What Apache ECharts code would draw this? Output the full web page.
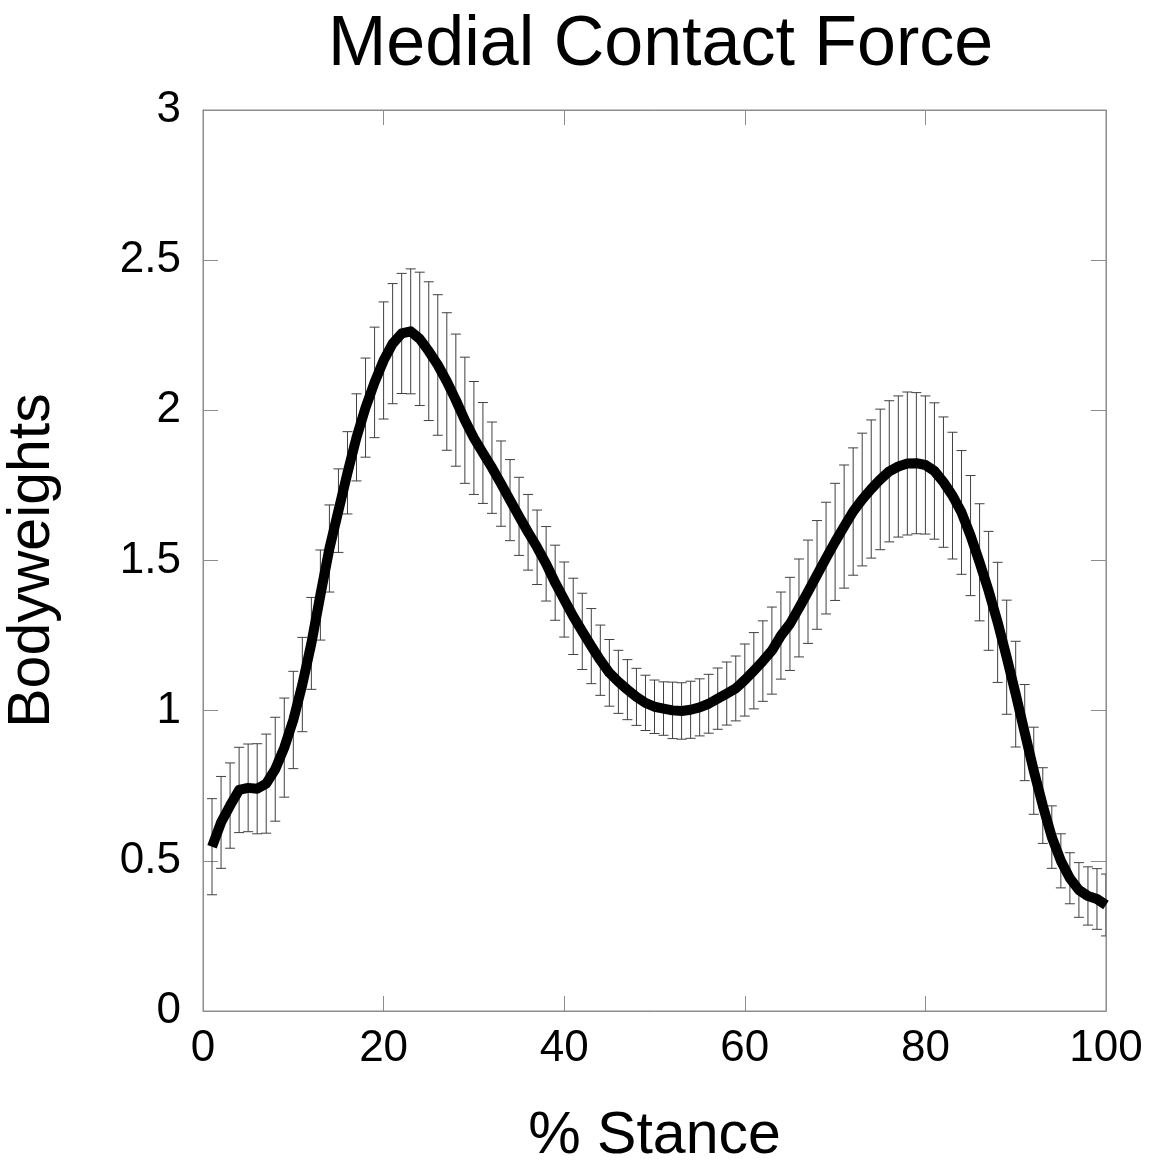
<!DOCTYPE html>
<html>
<head>
<meta charset="utf-8">
<script src="https://cdn.jsdelivr.net/npm/echarts@6/dist/echarts.min.js"></script>
<style>html,body{margin:0;padding:0;background:#fff}#c{width:1157px;height:1165px}</style>
</head>
<body>
<div id="c"></div>
<script>
// % stance (x) values
const stance = [1,2,3,4,5,6,7,8,9,10,11,12,13,14,15,16,17,18,19,20,21,22,23,24,25,26,27,28,29,30,31,32,33,34,35,36,37,38,39,40,41,42,43,44,45,46,47,48,49,50,51,52,53,54,55,56,57,58,59,60,61,62,63,64,65,66,67,68,69,70,71,72,73,74,75,76,77,78,79,80,81,82,83,84,85,86,87,88,89,90,91,92,93,94,95,96,97,98,99,100];
// mean medial contact force (bodyweights)
const meanForce = [0.547,0.628,0.684,0.736,0.743,0.740,0.757,0.805,0.877,0.969,1.087,1.224,1.385,1.540,1.666,1.792,1.910,2.009,2.093,2.166,2.222,2.256,2.263,2.238,2.197,2.151,2.096,2.034,1.967,1.908,1.858,1.809,1.756,1.701,1.647,1.594,1.544,1.489,1.426,1.370,1.314,1.264,1.215,1.168,1.126,1.096,1.070,1.046,1.026,1.013,1.007,1.001,0.999,1.003,1.011,1.023,1.040,1.057,1.074,1.102,1.133,1.165,1.200,1.250,1.289,1.342,1.396,1.452,1.508,1.562,1.613,1.663,1.703,1.738,1.770,1.797,1.813,1.823,1.824,1.818,1.798,1.761,1.716,1.660,1.583,1.494,1.399,1.294,1.178,1.055,0.927,0.800,0.684,0.579,0.500,0.442,0.403,0.383,0.373,0.353];
// standard deviation (bodyweights)
const sdForce = [0.160,0.153,0.142,0.142,0.146,0.150,0.165,0.173,0.165,0.162,0.157,0.153,0.150,0.145,0.139,0.137,0.145,0.165,0.184,0.195,0.200,0.200,0.208,0.222,0.231,0.234,0.229,0.220,0.210,0.188,0.168,0.152,0.142,0.135,0.130,0.126,0.124,0.124,0.125,0.125,0.127,0.127,0.125,0.117,0.111,0.105,0.100,0.095,0.092,0.089,0.089,0.094,0.094,0.095,0.095,0.098,0.102,0.105,0.108,0.120,0.127,0.134,0.145,0.145,0.155,0.163,0.172,0.181,0.186,0.195,0.205,0.212,0.221,0.230,0.234,0.235,0.235,0.238,0.235,0.230,0.227,0.217,0.211,0.206,0.200,0.195,0.198,0.200,0.190,0.176,0.160,0.145,0.126,0.104,0.090,0.085,0.091,0.097,0.101,0.103];
const xTicks = [0,20,40,60,80,100];
const yTicks = [0,0.5,1,1.5,2,2.5,3];

const FONT = "'Liberation Sans', Arial, Helvetica, sans-serif";
const lineData = stance.map((x,i)=>[x, meanForce[i]]);
const errData = stance.map((x,i)=>[x, meanForce[i]-sdForce[i], meanForce[i]+sdForce[i]]);

const axisLineStyle = {color:'#8c8c8c', width:1};
const tickCommon = {show:true, inside:true, length:15, lineStyle:axisLineStyle};
const chart = echarts.init(document.getElementById('c'), null, {renderer:'canvas'});
chart.setOption({
  animation:false,
  backgroundColor:'#fff',
  title:{text:'Medial Contact Force', left:323, top:6,
    textStyle:{fontFamily:FONT, fontSize:70, fontWeight:'normal', color:'#000'}},
  grid:{left:203, right:51, top:110, bottom:154, containLabel:false, outerBoundsMode:'none',
    show:true, borderColor:'#8c8c8c', borderWidth:1, backgroundColor:'transparent'},
  xAxis:[{
    type:'value', gridIndex:0, min:xTicks[0], max:xTicks[xTicks.length-1], interval:20, position:'bottom', offset:0,
    name:'% Stance', nameLocation:'middle', nameGap:96,
    nameTextStyle:{fontFamily:FONT, fontSize:59, color:'#000'},
    axisLine:{show:true, onZero:false, lineStyle:axisLineStyle},
    axisTick:tickCommon,
    axisLabel:{fontFamily:FONT, fontSize:44, color:'#000', margin:16},
    splitLine:{show:false}
  },{
    type:'value', gridIndex:0, min:xTicks[0], max:xTicks[xTicks.length-1], interval:20, position:'top', offset:0,
    axisLine:{show:true, onZero:false, lineStyle:axisLineStyle},
    axisTick:tickCommon,
    axisLabel:{show:false}, splitLine:{show:false}
  }],
  yAxis:[{
    type:'value', gridIndex:0, min:yTicks[0], max:yTicks[yTicks.length-1], interval:0.5, position:'left', offset:0,
    name:'Bodyweights', nameLocation:'middle', nameGap:141, nameRotate:90,
    nameTextStyle:{fontFamily:FONT, fontSize:59, color:'#000'},
    axisLine:{show:true, onZero:false, lineStyle:axisLineStyle},
    axisTick:tickCommon,
    axisLabel:{fontFamily:FONT, fontSize:44, color:'#000', margin:22, padding:[0,0,6,0]},
    splitLine:{show:false}
  },{
    type:'value', gridIndex:0, min:yTicks[0], max:yTicks[yTicks.length-1], interval:0.5, position:'right', offset:0,
    axisLine:{show:true, onZero:false, lineStyle:axisLineStyle},
    axisTick:tickCommon,
    axisLabel:{show:false}, splitLine:{show:false}
  }],
  series:[{
    type:'custom', xAxisIndex:0, yAxisIndex:0, clip:true, z:2,
    data:errData,
    encode:{x:0, y:[1,2]},
    renderItem:function(params, api){
      const x = api.value(0);
      const lo = api.coord([x, api.value(1)]);
      const hi = api.coord([x, api.value(2)]);
      const hw = 5;
      const st = {stroke:'#404040', lineWidth:1};
      return {type:'group', children:[
        {type:'line', shape:{x1:lo[0], y1:lo[1], x2:hi[0], y2:hi[1]}, style:st},
        {type:'line', shape:{x1:hi[0]-hw, y1:hi[1], x2:hi[0]+hw, y2:hi[1]}, style:st},
        {type:'line', shape:{x1:lo[0]-hw, y1:lo[1], x2:lo[0]+hw, y2:lo[1]}, style:st}
      ]};
    }
  },{
    type:'line', xAxisIndex:0, yAxisIndex:0, data:lineData, z:3,
    showSymbol:false, symbol:'none', smooth:false,
    lineStyle:{color:'#000', width:10, cap:'butt', join:'round'}
  }]
});
</script>
</body>
</html>
